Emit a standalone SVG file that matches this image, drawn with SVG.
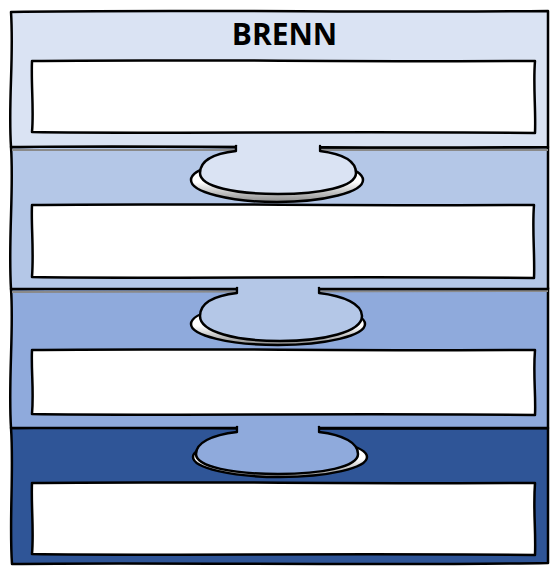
<svg xmlns="http://www.w3.org/2000/svg" width="550" height="567" viewBox="0 0 550 567">
<defs>
<style>
.ln{stroke:#000;stroke-width:2.5;stroke-linejoin:round;stroke-linecap:round}
.box{fill:#fff;stroke:#000;stroke-width:2.5;stroke-linejoin:round}
.sep{fill:none;stroke:#8a8a8a;stroke-width:2}
.title{font-family:"Open Sans","DejaVu Sans",sans-serif;font-weight:bold;font-size:30px;fill:#000}
</style>
<linearGradient id="sh" x1="0" y1="0" x2="0" y2="1">
<stop offset="0.55" stop-color="#ffffff"/>
<stop offset="1" stop-color="#8c8c8c"/>
</linearGradient>
<filter id="soft" x="-10%" y="-10%" width="120%" height="140%">
<feGaussianBlur stdDeviation="2"/>
</filter>
</defs>

<g id="band4">
<path class="ln" fill="#2f5597" d="M11,428 C120,426 300,430 548,428 L548,563 C400,566 150,562 12,564 C9,520 14,470 11,428 Z"/>
<path d="M12,432 L548,432" stroke="#1d3a6e" stroke-width="4" opacity="0.5" filter="url(#soft)"/>
<path class="box" d="M32,483 C150,481 350,484 535,483 C533,510 536,530 535,555 C350,553 150,556 32,554 C34,530 31,505 32,483 Z"/>
</g>

<g id="band3">
<path class="ln" fill="#8faadc" d="M11,289 C120,287 300,291 548,288 L548,428 L11,428 C8,380 14,330 11,289 Z"/>
<path class="sep" d="M12,292 L548,291"/>
<path class="box" d="M32,350 C150,348 350,351 535,350 C533,375 536,395 535,415 C350,413 150,416 32,414 C34,390 31,370 32,350 Z"/>
</g>

<g id="band2">
<path class="ln" fill="#b4c7e7" d="M11,147 C120,145 300,149 548,147 L548,289 L11,289 C8,240 14,190 11,147 Z"/>
<path class="sep" d="M12,150 L548,150"/>
<path class="box" d="M32,205 C150,203 350,206 534,205 C532,230 535,255 534,278 C350,276 150,279 32,277 C34,250 31,225 32,205 Z"/>
</g>

<g id="band1">
<path class="ln" fill="#dae3f3" d="M11,12 C150,9 400,13 548,11 L548,147 C400,149 150,145 11,147 C8,100 14,60 11,12 Z"/>
<path class="box" d="M32,61 C150,59 350,62 535,61 C533,85 536,110 535,133 C350,131 150,134 32,132 C34,110 31,85 32,61 Z"/>
<text class="title" x="284.5" y="45" text-anchor="middle">BRENN</text>
</g>

<g id="tab1">
<ellipse cx="277" cy="180" rx="86" ry="22" fill="url(#sh)" class="ln" stroke-width="2"/>
<path fill="#dae3f3" class="ln" d="M236,146 L236,151 C210,154 200,162 200,173 C200,187 236,194 278,194 C320,194 356,187 356,173 C356,162 344,154 320,151 L320,146"/>
<path fill="#dae3f3" d="M237.5,144 L318.5,144 L318.5,153 L237.5,153 Z"/>
</g>

<g id="tab2">
<ellipse cx="278" cy="324" rx="87" ry="21" fill="url(#sh)" class="ln" stroke-width="2"/>
<path fill="#b4c7e7" class="ln" d="M237,288 L237,293 C211,296 200,304 200,316 C200,332 236,341 280,341 C324,341 362,332 362,316 C362,304 344,296 319,293 L319,288"/>
<path fill="#b4c7e7" d="M238.5,286 L317.5,286 L317.5,295 L238.5,295 Z"/>
</g>

<g id="tab3">
<ellipse cx="280" cy="457" rx="87" ry="20" fill="url(#sh)" class="ln" stroke-width="2"/>
<path fill="#8faadc" class="ln" d="M237,427 L237,432 C211,435 196,443 196,454 C196,467 234,474 278,474 C322,474 358,467 358,454 C358,443 344,435 319,432 L319,427"/>
<path fill="#8faadc" d="M238.5,425 L317.5,425 L317.5,434 L238.5,434 Z"/>
</g>
</svg>
